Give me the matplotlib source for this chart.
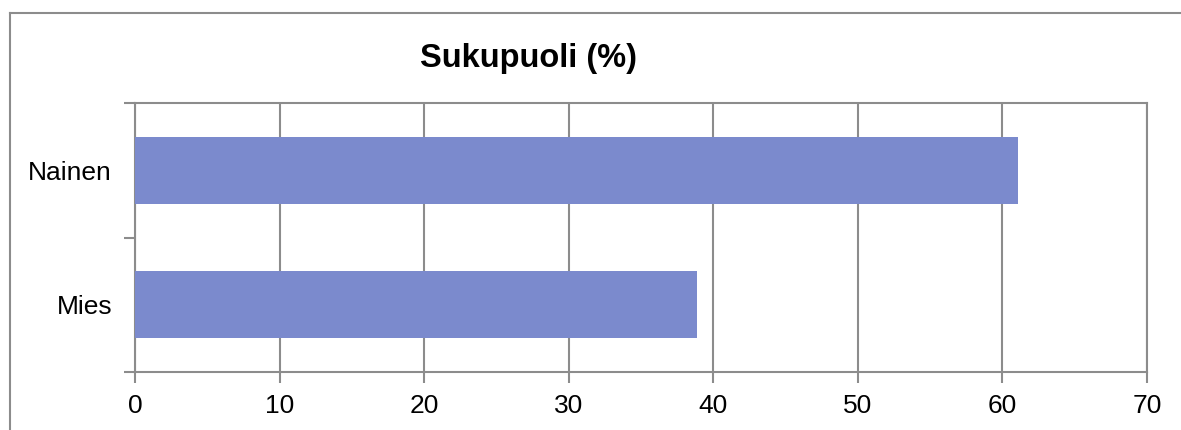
import matplotlib.pyplot as plt
from matplotlib.lines import Line2D

categories = ['Mies', 'Nainen']
values = [38.9, 61.1]
x_ticks = [0, 10, 20, 30, 40, 50, 60, 70]

plt.rcParams['font.family'] = ['Liberation Sans', 'DejaVu Sans']
grey = '#8c8c8c'

fig = plt.figure(figsize=(11.81, 4.30), dpi=100)
ax = fig.add_axes([135 / 1181, 1 - 372 / 430, (1147 - 135) / 1181, (372 - 103) / 430])

ax.barh(range(len(categories)), values, height=0.5, color='#7b8acd', zorder=3)

ax.set_xlim(0, 70)
ax.set_ylim(-0.5, len(categories) - 0.5)
ax.set_xticks(x_ticks)
ax.set_yticks(range(len(categories)))
ax.set_yticklabels(categories)
ax.set_yticks([-0.5, 0.5, 1.5], minor=True)

ax.grid(axis='x', color=grey, linewidth=1.5, zorder=0)
for s in ax.spines.values():
    s.set_color(grey)
    s.set_linewidth(1.5)

ax.tick_params(axis='x', which='major', length=8, width=1.5, color=grey,
               labelsize=19, pad=8)
ax.tick_params(axis='y', which='major', length=0, labelsize=19, pad=16.5)
ax.tick_params(axis='y', which='minor', length=8, width=1.5, color=grey)

fig.text(528 / 1181, 1 - 58 / 430, 'Sukupuoli (%)', ha='center', va='center',
         fontsize=23.5, fontweight='bold')

# outer chart border (left and top visible)
fig.add_artist(Line2D([10 / 1181, 10 / 1181], [0, 1 - 13 / 430], color=grey, linewidth=1.5))
fig.add_artist(Line2D([10 / 1181, 1], [1 - 13 / 430, 1 - 13 / 430], color=grey, linewidth=1.5))

fig.savefig('out.png', dpi=100)
